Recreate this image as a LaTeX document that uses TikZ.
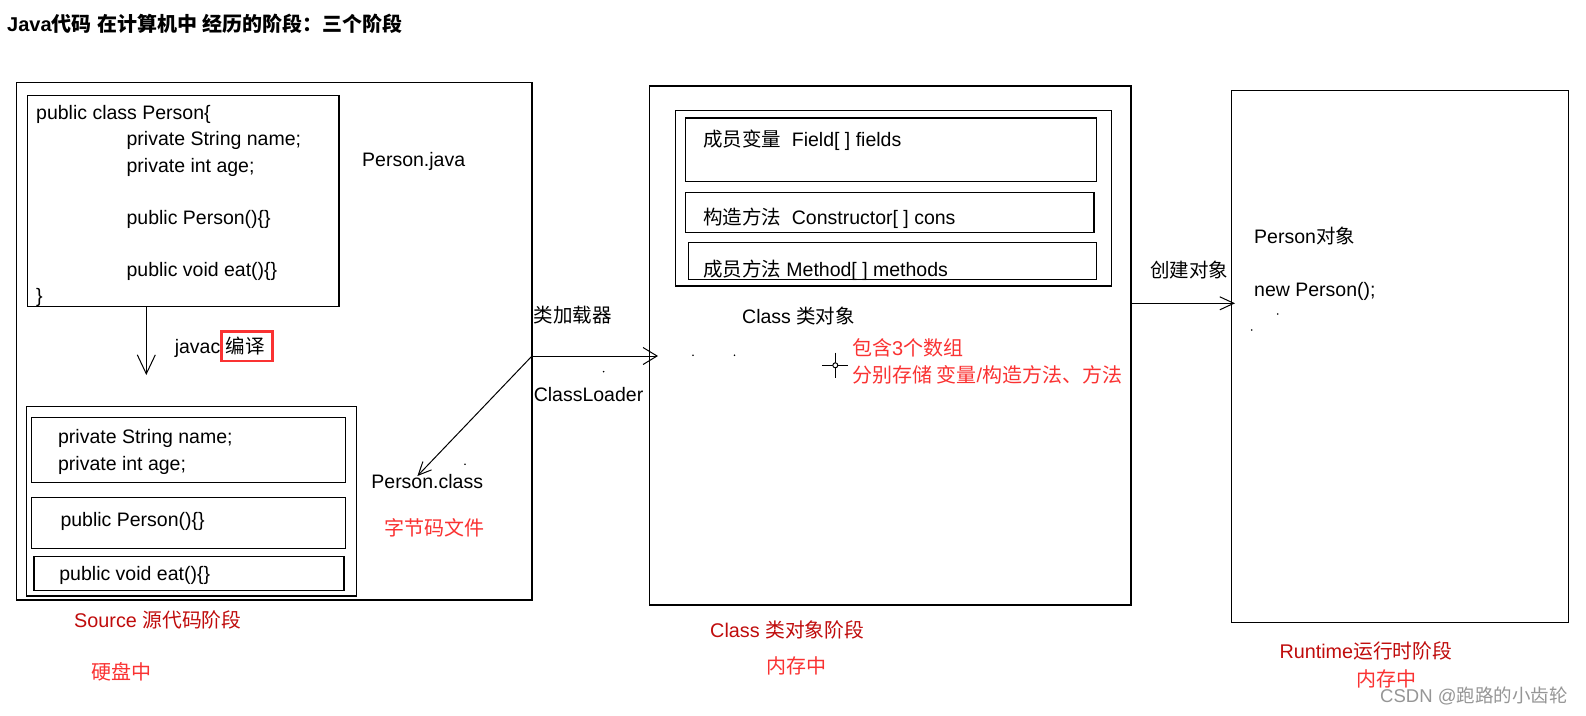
\documentclass[tikz,border=0pt]{standalone}
\usepackage{fontspec}
\setmainfont{Liberation Sans}
\newfontfamily\cjk{Noto Sans CJK SC}
\newcommand{\zh}[1]{{\cjk #1}}
\usetikzlibrary{arrows.meta,fit}
\definecolor{stagered}{RGB}{192,12,12}
\definecolor{notered}{RGB}{250,50,50}
\definecolor{wmgray}{RGB}{150,150,150}
\tikzset{
  plainbox/.style={draw=black, line width=1.4pt, inner sep=0pt, outer sep=0pt},
  txt/.style={anchor=base west, inner sep=0pt, font=\fontsize{19.5}{22}\selectfont},
  notetxt/.style={txt, text=notered, font=\fontsize{20}{22}\selectfont},
  stagetxt/.style={txt, text=stagered, font=\fontsize{19.8}{22}\selectfont},
  arr/.style={line width=1pt},
}
\begin{document}
\begin{tikzpicture}[x=1pt,y=-1pt]
\useasboundingbox (0,0) rectangle (1586,715);
\fill[white] (0,0) rectangle (1586,715);

% title
\node[txt, font=\fontsize{20}{22}\selectfont\bfseries] (title) at (7,31) {Java\zh{代码} \zh{在计算机中} \zh{经历的阶段：三个阶段}};

% ---------- Source stage ----------
\node[plainbox, fit={(16.5,82.7) (532,600)}] (leftouter) {};
\node[plainbox, fit={(27.5,95.7) (339,306.7)}] (codebox) {};
\node[txt] (c1) at (36,119.7) {public class Person\{};
\node[txt] (c2) at (126.4,145.3) {private String name;};
\node[txt] (c3) at (126.4,172) {private int age;};
\node[txt] (c4) at (126.4,224.3) {public Person()\{\}};
\node[txt] (c5) at (126.4,276.3) {public void eat()\{\}};
\node[txt] (c6) at (36,302) {\}};
\node[txt] (pjava) at (362,166.3) {Person.java};

\coordinate (dtip) at (146.3,375);
\draw[arr, -{Straight Barb[length=19pt,width=18pt]}] (codebox.south -| dtip) -- (dtip);
\node[txt] (javac) at (174.6,353.7) {javac};
\node[draw=notered, line width=2.5pt, inner sep=0pt, fit={(221.4,331.7) (272.4,361)}] (redbox) {};
\node[txt] (bianyi) at (225.5,353.7) {\zh{编译}};

\node[plainbox, fit={(26.5,406.7) (356.4,596)}] (bytebox) {};
\node[plainbox, fit={(31.7,417.3) (345.4,482.3)}] (bsub1) {};
\node[plainbox, fit={(31.7,497.3) (345.4,548.3)}] (bsub2) {};
\node[plainbox, fit={(34.1,556.7) (344,590.7)}] (bsub3) {};
\node[txt] (b1) at (57.9,443.7) {private String name;};
\node[txt] (b2) at (57.9,470.3) {private int age;};
\node[txt] (b3) at (60.3,526.3) {public Person()\{\}};
\node[txt] (b4) at (59.2,580.3) {public void eat()\{\}};
\node[txt] (pclass) at (371.2,488.7) {Person.class};
\node[notetxt] (zjm) at (384,535.3) {\zh{字节码文件}};

\node[stagetxt] (st1) at (74,627.7) {Source \zh{源代码阶段}};
\node[notetxt] (yp) at (91.3,679.7) {\zh{硬盘中}};

% ---------- Class stage ----------
\node[plainbox, fit={(649.5,86) (1131,605)}] (midouter) {};
\node[plainbox, fit={(675.6,110.7) (1111.3,286)}] (midinner) {};
\node[plainbox, fit={(685.4,118) (1096.3,181.3)}] (msub1) {};
\node[plainbox, fit={(685.4,192.7) (1094,232.3)}] (msub2) {};
\node[plainbox, fit={(688.2,242.3) (1096.3,279.3)}] (msub3) {};
\node[txt] (m1) at (702.8,146.3) {\zh{成员变量}\ \ Field[ ] fields};
\node[txt] (m2) at (702.8,224.3) {\zh{构造方法}\ \ Constructor[ ] cons};
\node[txt] (m3) at (702.8,276.3) {\zh{成员方法} Method[ ] methods};
\node[txt] (clsobj) at (742,323) {Class \zh{类对象}};

\node[txt] (loader) at (533.6,322) {\zh{类加载器}};
\node[txt] (cloader) at (533.6,401) {ClassLoader};

\coordinate (ltip) at (658,356);
\coordinate (ctip) at (417.4,476);
\draw[arr, -{Straight Barb[length=14pt,width=17pt]}] (leftouter.east |- ltip) -- (ltip);
\draw[arr, -{Straight Barb[length=13pt,width=12pt]}] (leftouter.east |- ltip) -- (ctip);

% crosshair
\coordinate (xh) at (835.3,365.3);
\draw[line width=1.3pt] (822,365.3) -- (848,365.3);
\draw[line width=1.3pt] (835.3,352.7) -- (835.3,377.7);
\draw[line width=1pt, fill=white] (xh) circle (2.5pt);

\node[notetxt] (n1) at (852,355.3) {\zh{包含}3\zh{个数组}};
\node[notetxt] (n2) at (852,382.7) {\zh{分别存储 变量}/\zh{构造方法、方法}};

\node[stagetxt] (st2) at (710,637.7) {Class \zh{类对象阶段}};
\node[notetxt] (nc2) at (766.7,673.7) {\zh{内存中}};

% ---------- Runtime stage ----------
\node[plainbox, fit={(1231.7,90.7) (1568.5,622.5)}] (rightbox) {};
\node[txt] (pobj) at (1254,243) {Person\zh{对象}};
\node[txt] (newp) at (1254,296.3) {new Person();};
\node[txt] (create) at (1150,277.7) {\zh{创建对象}};
\coordinate (rtip) at (1235,303.3);
\draw[arr, -{Straight Barb[length=14pt,width=13pt]}] (midouter.east |- rtip) -- (rtip);

\node[stagetxt] (st3) at (1279.3,658.7) {Runtime\zh{运行时阶段}};
\node[notetxt] (nc3) at (1356.7,686.3) {\zh{内存中}};
\node[txt, text=wmgray, font=\fontsize{18.5}{20}\selectfont] (wm) at (1380,702.5) {CSDN @\zh{跑路的小齿轮}};

% stray dots
\foreach \p in {(693,355.3),(734.5,355.3),(603.6,371.7),(1277.7,314),(1251.7,330),(465,464.3)}
  \fill[black] \p circle (0.9pt);
\end{tikzpicture}
\end{document}
